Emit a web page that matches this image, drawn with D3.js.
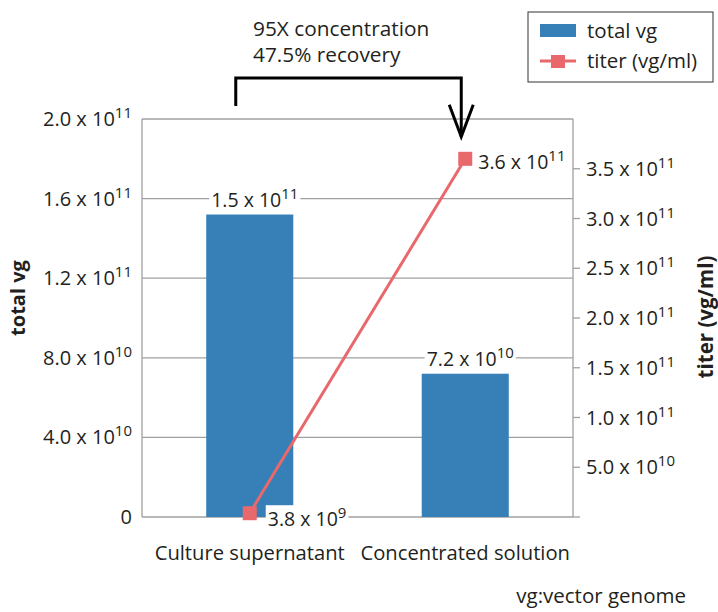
<!DOCTYPE html>
<html>
<head>
<meta charset="utf-8">
<script src="https://cdnjs.cloudflare.com/ajax/libs/d3/7.8.5/d3.min.js"></script>
<style>
  body { margin: 0; background: #fff; }
  text { font-family: "Open Sans", "Noto Sans", sans-serif; fill: #231f20; }
</style>
</head>
<body>
<div id="chart"></div>
<script>
const categories = ["Culture supernatant", "Concentrated solution"];
const totalVg = [1.52e11, 7.2e10];
const titer = [3.8e9, 3.6e11];
const leftTicks = [0, 4e10, 8e10, 1.2e11, 1.6e11, 2e11];
const rightTicks = [0, 5e10, 1e11, 1.5e11, 2e11, 2.5e11, 3e11, 3.5e11];
const seriesNames = ["total vg", "titer (vg/ml)"];

const W = 718, H = 612;
const margin = { top: 119, right: 145, bottom: 95, left: 142 },
    width = W - margin.left - margin.right,
    height = H - margin.top - margin.bottom;

const barColor = "#3780b7", lineColor = "#e8686b", gridColor = "#a0a0a0";

const svg = d3.select("#chart").append("svg")
    .attr("width", W)
    .attr("height", H);

const g = svg.append("g")
    .attr("transform", "translate(" + margin.left + "," + margin.top + ")");

const x = d3.scaleBand().domain(categories).range([0, width]);
const yL = d3.scaleLinear().domain([0, 2e11]).range([height, 0]);
const yR = d3.scaleLinear().domain([0, 4e11]).range([height, 0]);
const barW = x.bandwidth() * 0.404;

// "1.5 x 10^11" style text
function sci(sel, v, supSize) {
    if (v === 0) { sel.append("tspan").text("0"); return; }
    const e = Math.floor(Math.log10(v));
    const m = (v / Math.pow(10, e)).toFixed(1);
    sel.append("tspan").text(m + " x 10");
    sel.append("tspan").attr("dy", -8).style("font-size", supSize + "px").text(e);
}

// gridlines (left axis)
g.selectAll(".grid")
    .data(leftTicks)
    .enter().append("line")
    .attr("x1", 0).attr("x2", width)
    .attr("y1", d => yL(d)).attr("y2", d => yL(d))
    .attr("stroke", gridColor).attr("stroke-width", 1.3);

g.append("line")
    .attr("x1", 0).attr("x2", 0).attr("y1", 0).attr("y2", height)
    .attr("stroke", gridColor).attr("stroke-width", 1.3);

// left tick labels
g.selectAll(".ltick")
    .data(leftTicks)
    .enter().append("text")
    .attr("x", -10)
    .attr("y", d => yL(d) + 7)
    .attr("text-anchor", "end")
    .style("font-size", "20px")
    .each(function (d) { sci(d3.select(this), d, 15); });

// right axis
g.append("line")
    .attr("x1", width).attr("x2", width).attr("y1", 0).attr("y2", height)
    .attr("stroke", gridColor).attr("stroke-width", 1.3);
g.selectAll(".rtickmark")
    .data(rightTicks)
    .enter().append("line")
    .attr("x1", width).attr("x2", width + 7)
    .attr("y1", d => yR(d)).attr("y2", d => yR(d))
    .attr("stroke", gridColor).attr("stroke-width", 1.3);
g.selectAll(".rtick")
    .data(rightTicks.filter(d => d > 0))
    .enter().append("text")
    .attr("x", width + 13)
    .attr("y", d => yR(d) + 7)
    .style("font-size", "20px")
    .each(function (d) { sci(d3.select(this), d, 15); });

// bars
g.selectAll(".bar")
    .data(totalVg)
    .enter().append("rect")
    .attr("x", (d, i) => x(categories[i]) + x.bandwidth() / 2 - barW / 2)
    .attr("y", d => yL(d))
    .attr("width", barW)
    .attr("height", d => height - yL(d))
    .attr("fill", barColor);

// value labels with white backing
function labelWithBg(sel, v, px, py, anchor) {
    const grp = sel.append("g");
    const rect = grp.append("rect").attr("fill", "#fff");
    const t = grp.append("text")
        .attr("x", px).attr("y", py)
        .attr("text-anchor", anchor)
        .style("font-size", "19.5px");
    sci(t, v, 15);
    const bb = t.node().getBBox();
    rect.attr("x", bb.x - 2).attr("y", bb.y + 3)
        .attr("width", bb.width + 4).attr("height", bb.height - 6);
}

totalVg.forEach((v, i) => {
    labelWithBg(g, v, x(categories[i]) + x.bandwidth() / 2 + 5, yL(v) - 8, "middle");
});

// titer line
const cx = (d, i) => x(categories[i]) + x.bandwidth() / 2;
const line = d3.line()
    .x((d, i) => cx(d, i))
    .y(d => yR(d));
g.append("path")
    .datum(titer)
    .attr("d", line)
    .attr("fill", "none")
    .attr("stroke", lineColor)
    .attr("stroke-width", 3);

titer.forEach((v, i) => {
    labelWithBg(g, v, cx(v, i) + (i === 0 ? 18 : 13), yR(v) + (i === 0 ? 13 : 10), "start");
});

g.selectAll(".pt")
    .data(titer)
    .enter().append("rect")
    .attr("x", (d, i) => cx(d, i) - 7)
    .attr("y", d => yR(d) - 7)
    .attr("width", 14).attr("height", 14)
    .attr("fill", lineColor);

// category labels
g.selectAll(".cat")
    .data(categories)
    .enter().append("text")
    .attr("x", d => x(d) + x.bandwidth() / 2)
    .attr("y", height + 43)
    .attr("text-anchor", "middle")
    .style("font-size", "20.2px")
    .text(d => d);

// axis titles
svg.append("text")
    .attr("transform", "translate(25,298) rotate(-90)")
    .attr("text-anchor", "middle")
    .style("font-size", "20px").style("font-weight", "bold")
    .text("total vg");
svg.append("text")
    .attr("transform", "translate(713,317) rotate(-90)")
    .attr("text-anchor", "middle")
    .style("font-size", "20.5px").style("font-weight", "bold")
    .text("titer (vg/ml)");

// bracket arrow annotation
const xa = x(categories[0]) + x.bandwidth() / 2 - 14,
    xb = x(categories[1]) + x.bandwidth() / 2 - 4,
    yTop = -41, yTip = yR(titer[1]) - 22;
g.append("path")
    .attr("d", `M${xa},-13 V${yTop} H${xb} V${yTip}`)
    .attr("fill", "none").attr("stroke", "#000").attr("stroke-width", 3);
g.append("path")
    .attr("d", `M${xb - 12},${yTip - 32} L${xb},${yTip} L${xb + 12},${yTip - 32}`)
    .attr("fill", "none").attr("stroke", "#000").attr("stroke-width", 3);

const note = svg.append("text").attr("x", 253).attr("y", 36).style("font-size", "20.8px");
note.append("tspan").text("95X concentration");
note.append("tspan").attr("x", 253).attr("y", 62).text("47.5% recovery");

// legend
const lg = svg.append("g").attr("transform", "translate(528,12)");
lg.append("rect").attr("width", 185).attr("height", 70)
    .attr("fill", "#fff").attr("stroke", "#333").attr("stroke-width", 1);
lg.append("rect").attr("x", 12).attr("y", 12).attr("width", 36).attr("height", 13).attr("fill", barColor);
lg.append("line").attr("x1", 12).attr("x2", 48).attr("y1", 49).attr("y2", 49)
    .attr("stroke", lineColor).attr("stroke-width", 3);
lg.append("rect").attr("x", 23).attr("y", 43).attr("width", 14).attr("height", 13).attr("fill", lineColor);
lg.selectAll(".lt")
    .data(seriesNames)
    .enter().append("text")
    .attr("x", 59)
    .attr("y", (d, i) => 26 + i * 30)
    .style("font-size", "20.5px")
    .text(d => d);

svg.append("text")
    .attr("x", 686).attr("y", 603)
    .attr("text-anchor", "end")
    .style("font-size", "20.5px")
    .text("vg:vector genome");
</script>
</body>
</html>
